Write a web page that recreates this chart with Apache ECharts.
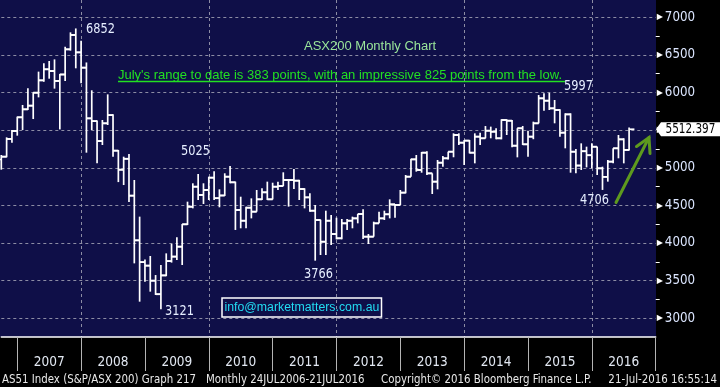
<!DOCTYPE html>
<html><head><meta charset="utf-8">
<script src="https://cdn.jsdelivr.net/npm/echarts@6/dist/echarts.min.js"></script>
<style>html,body{margin:0;padding:0;background:#000;}#c{width:720px;height:387px;}</style>
</head><body><div id="c"></div>
<script>
// ---- data (ASX200 monthly OHLC, Sep 2006 - Jul 2016) ----
const months = [
 'Sep 2006','Oct 2006','Nov 2006','Dec 2006',
 'Jan 2007','Feb 2007','Mar 2007','Apr 2007','May 2007','Jun 2007','Jul 2007','Aug 2007','Sep 2007','Oct 2007','Nov 2007','Dec 2007',
 'Jan 2008','Feb 2008','Mar 2008','Apr 2008','May 2008','Jun 2008','Jul 2008','Aug 2008','Sep 2008','Oct 2008','Nov 2008','Dec 2008',
 'Jan 2009','Feb 2009','Mar 2009','Apr 2009','May 2009','Jun 2009','Jul 2009','Aug 2009','Sep 2009','Oct 2009','Nov 2009','Dec 2009',
 'Jan 2010','Feb 2010','Mar 2010','Apr 2010','May 2010','Jun 2010','Jul 2010','Aug 2010','Sep 2010','Oct 2010','Nov 2010','Dec 2010',
 'Jan 2011','Feb 2011','Mar 2011','Apr 2011','May 2011','Jun 2011','Jul 2011','Aug 2011','Sep 2011','Oct 2011','Nov 2011','Dec 2011',
 'Jan 2012','Feb 2012','Mar 2012','Apr 2012','May 2012','Jun 2012','Jul 2012','Aug 2012','Sep 2012','Oct 2012','Nov 2012','Dec 2012',
 'Jan 2013','Feb 2013','Mar 2013','Apr 2013','May 2013','Jun 2013','Jul 2013','Aug 2013','Sep 2013','Oct 2013','Nov 2013','Dec 2013',
 'Jan 2014','Feb 2014','Mar 2014','Apr 2014','May 2014','Jun 2014','Jul 2014','Aug 2014','Sep 2014','Oct 2014','Nov 2014','Dec 2014',
 'Jan 2015','Feb 2015','Mar 2015','Apr 2015','May 2015','Jun 2015','Jul 2015','Aug 2015','Sep 2015','Oct 2015','Nov 2015','Dec 2015',
 'Jan 2016','Feb 2016','Mar 2016','Apr 2016','May 2016','Jun 2016','Jul 2016','Aug 2016','Sep 2016','Oct 2016','Nov 2016','Dec 2016'
];
const openVals = [
 5110,5148,5383,5489,
 5671,5777,5826,5998,6162,6309,6286,6154,6240,6574,6765,6534,
 6331,5657,5620,5355,5591,5700,5228,4975,5120,4630,4036,3746,
 3700,3500,3320,3570,3760,3820,3952,4249,4483,4749,4639,4705,
 4869,4596,4632,4882,4807,4439,4297,4470,4417,4581,4674,4581,
 4749,4758,4838,4838,4829,4718,4607,4430,4306,4018,4297,4120,
 4063,4262,4297,4328,4386,4085,4085,4262,4328,4382,4514,4506,
 4670,4882,5112,4971,5201,4926,4816,5068,5126,5214,5436,5334,
 5361,5201,5414,5392,5493,5480,5392,5635,5626,5294,5525,5312,
 5414,5591,5923,5892,5790,5768,5467,5710,5214,5030,5220,5167,
 5280,4993,4880,5082,5259,5378,5237
];
const highVals = [
 5170,5405,5502,5680,
 5835,6056,6000,6278,6388,6419,6441,6247,6610,6800,6852,6689,
 6400,6030,5630,5635,5976,5710,5236,5148,5183,4838,4351,3780,
 3828,3575,3708,3863,3990,4076,4253,4550,4794,4918,4794,4882,
 4955,4714,4927,5025,4816,4616,4483,4594,4705,4727,4816,4802,
 4816,4940,4850,4984,4840,4727,4661,4506,4310,4430,4373,4337,
 4320,4320,4351,4386,4448,4120,4284,4417,4430,4581,4519,4705,
 4904,5120,5170,5210,5220,4926,5104,5157,5214,5458,5458,5370,
 5370,5458,5467,5555,5547,5525,5644,5644,5635,5525,5556,5494,
 5613,5967,5990,5997,5901,5777,5724,5724,5250,5325,5281,5325,
 5280,5015,5104,5259,5436,5392,5535
];
const lowVals = [
 4975,5140,5334,5427,
 5502,5768,5648,5936,6145,6184,6052,5510,6154,6557,6322,6122,
 5201,5502,5059,5303,5569,5148,4810,4771,4545,3730,3221,3487,
 3354,3310,3121,3560,3740,3775,3708,4240,4461,4572,4519,4572,
 4572,4475,4625,4794,4174,4196,4196,4328,4417,4572,4572,4580,
 4705,4758,4484,4718,4572,4461,4417,3766,3841,3841,3974,4049,
 4050,4173,4196,4262,4054,3987,4085,4262,4306,4328,4337,4506,
 4661,4882,4949,4935,4904,4652,4714,5015,5110,5140,5303,5037,
 5192,5059,5303,5392,5392,5378,5378,5436,5272,5139,5303,5148,
 5380,5591,5759,5768,5591,5414,5259,4935,4926,4971,5006,4993,
 4904,4706,4816,5059,5126,5059,5230
];
const closeVals = [
 5148,5383,5489,5671,
 5777,5826,5998,6162,6309,6286,6154,6240,6574,6765,6534,6331,
 5657,5620,5355,5591,5700,5228,4975,5120,4630,4036,3746,3700,
 3500,3320,3570,3760,3820,3952,4249,4483,4749,4639,4705,4869,
 4596,4632,4882,4807,4439,4297,4470,4417,4581,4674,4581,4749,
 4758,4838,4838,4829,4718,4607,4430,4306,4018,4297,4120,4063,
 4262,4297,4328,4386,4085,4085,4262,4328,4382,4514,4506,4670,
 4882,5112,4971,5201,4926,4816,5068,5126,5214,5436,5334,5361,
 5201,5414,5392,5493,5480,5392,5635,5626,5294,5525,5312,5414,
 5591,5923,5892,5790,5768,5467,5710,5214,5030,5220,5167,5280,
 4993,4880,5082,5259,5378,5237,5512.397
];
const yTickStep = 500;
const yMin = 2751.5, yMax = 7229.9;

const NARROW = "'DejaVu Sans Condensed','Liberation Sans Narrow',sans-serif";
const ARIAL = "'Liberation Sans',Arial,sans-serif";

const ohlc = openVals.map((o, i) => [i, o, highVals[i], lowVals[i], closeVals[i]]);

const chart = echarts.init(document.getElementById('c'), null, {renderer: 'canvas'});

function renderBar(params, api) {
  const x = api.value(0);
  const o = api.coord([x, api.value(1)]);
  const h = api.coord([x, api.value(2)]);
  const l = api.coord([x, api.value(3)]);
  const c = api.coord([x, api.value(4)]);
  const w = api.size([1, 0])[0];
  const st = {stroke: '#ffffff', lineWidth: 1.7};
  return {type: 'group', children: [
    {type: 'line', shape: {x1: h[0], y1: h[1], x2: l[0], y2: l[1]}, style: st},
    {type: 'line', shape: {x1: o[0] - w, y1: o[1], x2: o[0], y2: o[1]}, style: st},
    {type: 'line', shape: {x1: c[0], y1: c[1], x2: c[0] + w, y2: c[1]}, style: st}
  ]};
}

const option = {
  backgroundColor: '#000000',
  animation: false,
  grid: {left: 1.3, right: 64.3, top: 0, bottom: 50, containLabel: false},
  xAxis: {
    type: 'category', data: months, boundaryGap: false,
    axisLine: {lineStyle: {color: '#ffffff', width: 1.5}},
    axisTick: {show: true, interval: (i, v) => v.startsWith('Dec'), length: 34, lineStyle: {color: '#b4b4b4', width: 1}},
    axisLabel: {interval: (i, v) => v.startsWith('Jun'), formatter: v => v.slice(4), margin: 18,
      color: '#e2e8f2', fontSize: 13.5, fontFamily: NARROW},
    splitLine: {show: true, interval: (i, v) => v.startsWith('Dec') && (+v.slice(4)) % 2 === 1,
      lineStyle: {type: [3, 3], color: '#8c8ca4', width: 1}}
  },
  yAxis: {
    type: 'value', position: 'right', min: yMin, max: yMax, splitNumber: 9,
    axisLine: {show: false}, axisTick: {show: false},
    minorTick: {show: true, splitNumber: 2, length: 4, lineStyle: {color: '#ffffff', width: 1}},
    axisLabel: {margin: 1, formatter: v => (Math.abs(v % yTickStep) < 1e-6 ? '{t|\u25B6}{v|' + v + '}' : ''),
      rich: {t: {fontSize: 8, color: '#ffffff', padding: [0, 2, 0, 0], fontFamily: 'DejaVu Sans'},
             v: {fontSize: 13.2, color: '#dce6ff', fontFamily: NARROW}}},
    splitLine: {show: true, showMinLine: false, showMaxLine: false, lineStyle: {type: [3, 3], color: '#8c8ca4', width: 1}}
  },
  series: [{
    type: 'custom', renderItem: renderBar, data: ohlc,
    encode: {x: 0, y: [1, 2, 3, 4]}, z: 5
  }]
};
chart.setOption(option);

const lastClose = closeVals[closeVals.length - 1];
const py = chart.convertToPixel({yAxisIndex: 0}, lastClose);
const txt = (text, x, y, fill, size, fam, sx, align) => ({type: 'text', z: 50, x: x, y: y, scaleX: sx || 1,
  style: {text: text, x: 0, y: 0, fill: fill, fontSize: size, fontFamily: fam, verticalAlign: 'middle', align: align || 'left'}});
const annColor = '#e6eeff';
const green = '#5e9a1e';
const FS = 0.875;

chart.setOption({graphic: [
  {type: 'rect', z: -10, silent: true, shape: {x: 0, y: 0, width: 656, height: 337}, style: {fill: '#0f0f48'}},
  txt('6852', 86, 29.5, annColor, 14, NARROW, 0.9),
  txt('5025', 181, 151, annColor, 14, NARROW, 0.9),
  txt('3121', 165, 311, annColor, 14, NARROW, 0.9),
  txt('3766', 304, 274, annColor, 14, NARROW, 0.9),
  txt('5997', 564, 86, annColor, 14, NARROW, 0.9),
  txt('4706', 580, 200, annColor, 14, NARROW, 0.9),
  txt('ASX200 Monthly Chart', 304, 46, '#9ae69a', 13, ARIAL),
  txt("July's range to date is 383 points, with an impressive 825 points from the low.", 118, 75, '#22e022', 13, ARIAL),
  {type: 'line', z: 50, shape: {x1: 118, y1: 81.5, x2: 565, y2: 81.5}, style: {stroke: '#22e022', lineWidth: 1.5}},
  {type: 'rect', z: 50, shape: {x: 222, y: 298, width: 159.5, height: 19}, style: {fill: null, stroke: '#ffffff', lineWidth: 1.5}},
  txt('info@marketmatters.com.au', 224.5, 307.8, '#22dcf2', 12.5, ARIAL, 0.985),
  {type: 'line', z: 50, shape: {x1: 616, y1: 202.5, x2: 649, y2: 137.5}, style: {stroke: green, lineWidth: 3, lineCap: 'round'}},
  {type: 'polyline', z: 50, shape: {points: [[636.5, 146.5], [649, 137.5], [650, 153.5]]}, style: {stroke: green, lineWidth: 3, lineCap: 'round', lineJoin: 'miter', fill: null}},
  {type: 'polygon', z: 50, shape: {points: [[656, py], [661, py - 7], [720, py - 7], [720, py + 7], [661, py + 7]]}, style: {fill: '#ffffff'}},
  txt(String(lastClose), 665.5, py + 0.5, '#000000', 14, NARROW, 0.83),
  txt('AS51 Index (S&P/ASX 200) Graph 217', 2, 380, '#e8e8e8', 13, NARROW, FS),
  txt('Monthly 24JUL2006-21JUL2016', 206, 380, '#e8e8e8', 13, NARROW, FS),
  txt('Copyright\u00A9 2016 Bloomberg Finance L.P.', 381, 380, '#e8e8e8', 13, NARROW, FS),
  txt('21-Jul-2016 16:55:14', 717, 380, '#e8e8e8', 13, NARROW, FS, 'right')
]});
</script>
</body></html>
